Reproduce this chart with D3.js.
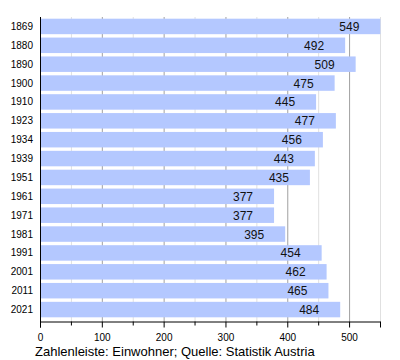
<!DOCTYPE html>
<html>
<head>
<meta charset="utf-8">
<script src="https://cdn.jsdelivr.net/npm/d3@7"></script>
<style>
  body { margin: 0; background: #fff; }
  text { font-family: "Liberation Sans", Arial, sans-serif; }
</style>
</head>
<body>
<div id="chart"></div>
<script>
var years = ["1869", "1880", "1890", "1900", "1910", "1923", "1934", "1939",
             "1951", "1961", "1971", "1981", "1991", "2001", "2011", "2021"];
var einwohner = [549, 492, 509, 475, 445, 477, 456, 443, 435, 377, 377, 395, 454, 462, 465, 484];
var majorTicks = [0, 100, 200, 300, 400, 500];
var minorTicks = [50, 150, 250, 350, 450, 550];

var data = years.map(function(y, i) { return {jahr: y, wert: einwohner[i]}; });

var width = 400, height = 360;
var margin = {top: 17, right: 20, bottom: 40, left: 40};

var svg = d3.select("#chart").append("svg")
    .attr("width", width)
    .attr("height", height);

var x = d3.scaleLinear().domain([0, 550]).range([margin.left, width - margin.right]);
var y = d3.scaleBand().domain(years)
    .range([margin.top, height - margin.bottom - 1])
    .paddingInner(0.18).paddingOuter(0.09);

var axisY = height - margin.bottom + 1;

// grid lines
svg.selectAll(".minor").data(minorTicks).enter().append("line")
    .attr("x1", function(d) { return x(d) + 0.5; })
    .attr("x2", function(d) { return x(d) + 0.5; })
    .attr("y1", margin.top).attr("y2", axisY)
    .attr("stroke", "#e0e0e0").attr("stroke-width", 1);

svg.selectAll(".major").data(majorTicks.slice(1)).enter().append("line")
    .attr("x1", function(d) { return x(d) + 0.5; })
    .attr("x2", function(d) { return x(d) + 0.5; })
    .attr("y1", margin.top).attr("y2", axisY)
    .attr("stroke", "#a0a0a0").attr("stroke-width", 1);

// bars
svg.selectAll(".bar").data(data).enter().append("rect")
    .attr("class", "bar")
    .attr("x", x(0) + 1)
    .attr("y", function(d) { return y(d.jahr); })
    .attr("width", function(d) { return x(d.wert) - x(0); })
    .attr("height", y.bandwidth())
    .attr("fill", "#b4c8ff");

// value labels
svg.selectAll(".val").data(data).enter().append("text")
    .attr("x", function(d) { return x(d.wert) - 20; })
    .attr("y", function(d) { return y(d.jahr) + y.bandwidth() / 2 + 4.5; })
    .attr("text-anchor", "end")
    .attr("font-size", 12)
    .attr("fill", "#111")
    .text(function(d) { return d.wert; });

// year labels
svg.selectAll(".jahr").data(data).enter().append("text")
    .attr("x", margin.left - 7)
    .attr("y", function(d) { return y(d.jahr) + y.bandwidth() / 2 + 3.5; })
    .attr("text-anchor", "end")
    .attr("font-size", 10)
    .attr("fill", "#000")
    .text(function(d) { return d.jahr; });

// bottom axis
var xAxis = d3.axisBottom(x).tickValues(majorTicks).tickSize(6).tickFormat(d3.format("d"));
var gx = svg.append("g")
    .attr("transform", "translate(0," + (axisY + 0.5) + ")")
    .call(xAxis);
gx.select(".domain").attr("stroke", "#000");
gx.selectAll(".tick text").attr("font-size", 10).attr("font-family", "Liberation Sans, Arial, sans-serif").attr("dy", "1em");
gx.selectAll(".minorTick").data(minorTicks).enter().append("line")
    .attr("x1", function(d) { return x(d) + 0.5; })
    .attr("x2", function(d) { return x(d) + 0.5; })
    .attr("y1", 0).attr("y2", 4)
    .attr("stroke", "#000");

// left axis line
svg.append("line")
    .attr("x1", x(0) + 0.5).attr("x2", x(0) + 0.5)
    .attr("y1", margin.top).attr("y2", axisY + 6)
    .attr("stroke", "#000");

// caption
svg.append("text")
    .attr("x", 35)
    .attr("y", 356)
    .attr("font-size", 13)
    .attr("fill", "#000")
    .text("Zahlenleiste: Einwohner; Quelle: Statistik Austria");
</script>
</body>
</html>
